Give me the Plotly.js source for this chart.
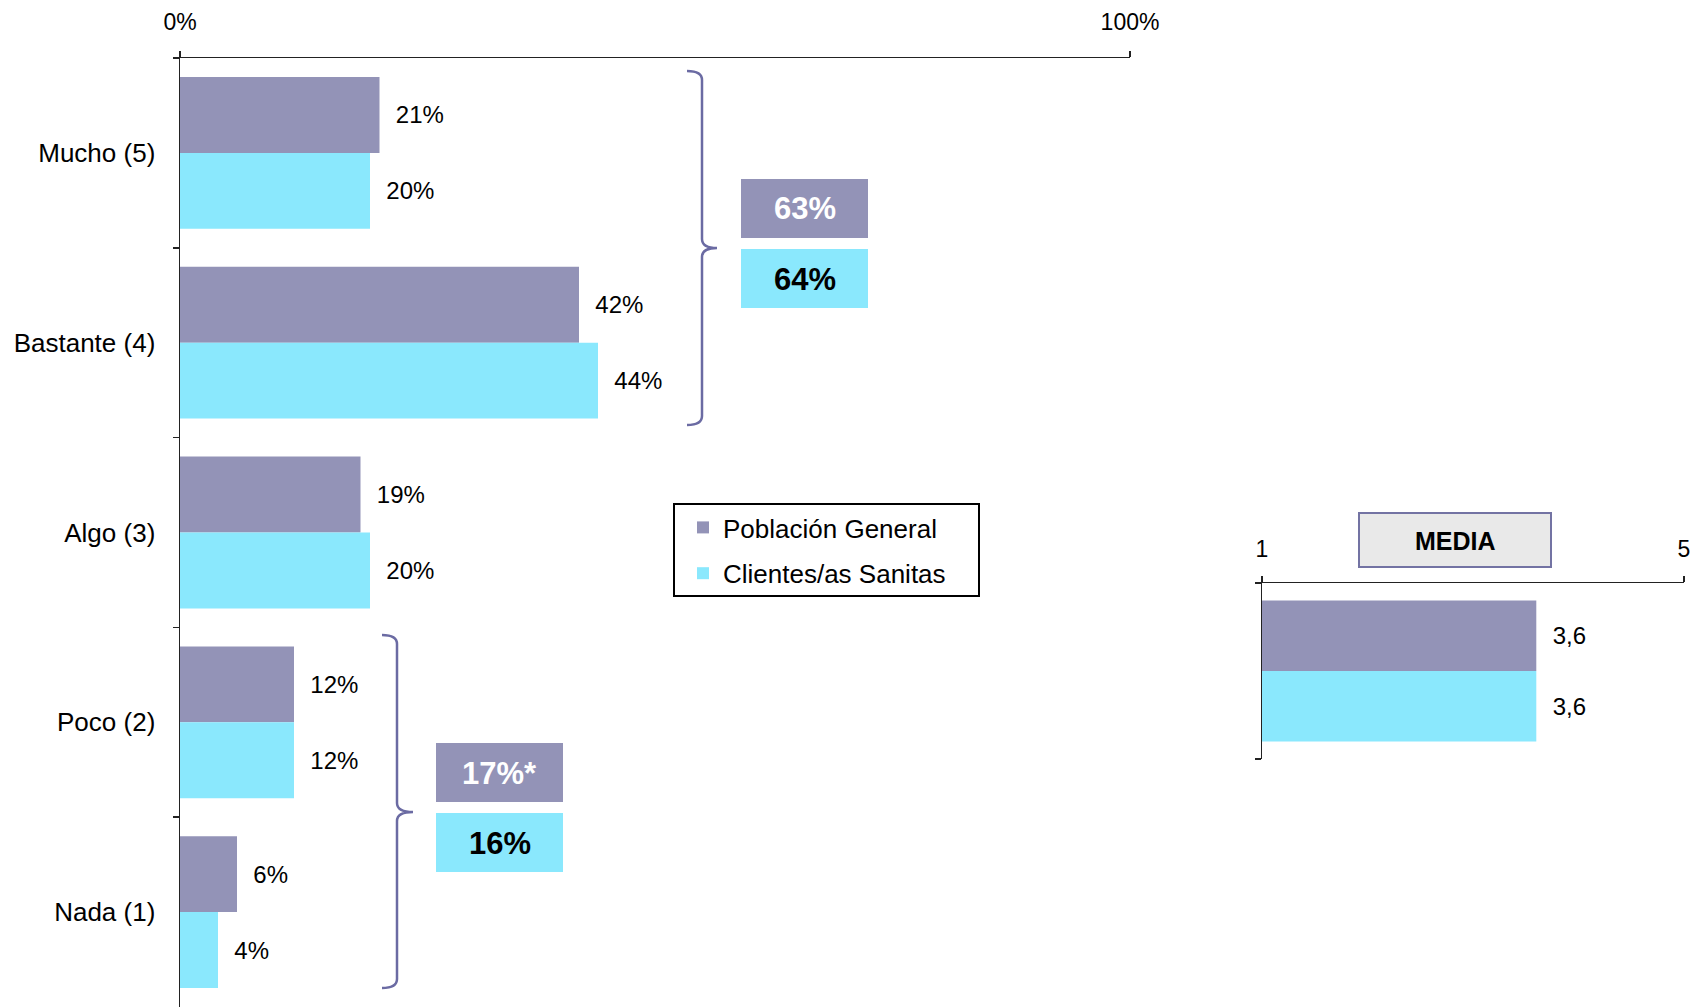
<!DOCTYPE html>
<html>
<head>
<meta charset="utf-8">
<script src="https://cdn.plot.ly/plotly-3.0.1.min.js"></script>
<style>html,body{margin:0;padding:0;background:#fff;}#chart{width:1701px;height:1007px;}</style>
</head>
<body>
<div id="chart"></div>
<script>
// ---- data ----
const categories = ['Mucho (5)', 'Bastante (4)', 'Algo (3)', 'Poco (2)', 'Nada (1)'];
const seriesNames = ['Población General', 'Clientes/as Sanitas'];
const poblacionGeneral = [21, 42, 19, 12, 6];
const clientesSanitas = [20, 44, 20, 12, 4];
const mediaLabel = ['MEDIA'];
const mediaPoblacion = [3.6];
const mediaSanitas = [3.6];
const topTwoBox = [63, 64];       // Mucho + Bastante
const bottomTwoBox = [17, 16];    // Poco + Nada
const bottomTwoNote = ['*', ''];
const xTickVals = [0, 100];
const xTickText = ['0%', '100%'];
const mediaTickVals = [1, 5];
const mediaTickText = ['1', '5'];

// ---- style ----
const W = 1701, H = 1007;
const colPG = '#9393b7', colCS = '#8ae8fd', braceCol = '#6b6ba3';
const FONT = 'Liberation Sans, Arial, sans-serif';
const X = p => p / W, Y = p => 1 - p / H;
const pad = '\u00a0\u00a0';

const traces = [
  {type:'bar', orientation:'h', name:seriesNames[0], y:categories, x:poblacionGeneral,
   marker:{color:colPG}, texttemplate:pad + '%{x}%', textposition:'outside', cliponaxis:false,
   textfont:{size:24, color:'#000', family:FONT}, legendgroup:'a', hoverinfo:'none'},
  {type:'bar', orientation:'h', name:seriesNames[1], y:categories, x:clientesSanitas,
   marker:{color:colCS}, texttemplate:pad + '%{x}%', textposition:'outside', cliponaxis:false,
   textfont:{size:24, color:'#000', family:FONT}, legendgroup:'b', hoverinfo:'none'},
  {type:'bar', orientation:'h', name:seriesNames[0], y:mediaLabel, x:mediaPoblacion, xaxis:'x2', yaxis:'y2',
   marker:{color:colPG}, texttemplate:pad + '%{x:.1f}', textposition:'outside', cliponaxis:false,
   textfont:{size:24, color:'#000', family:FONT}, showlegend:false, hoverinfo:'none'},
  {type:'bar', orientation:'h', name:seriesNames[1], y:mediaLabel, x:mediaSanitas, xaxis:'x2', yaxis:'y2',
   marker:{color:colCS}, texttemplate:pad + '%{x:.1f}', textposition:'outside', cliponaxis:false,
   textfont:{size:24, color:'#000', family:FONT}, showlegend:false, hoverinfo:'none'}
];

function bracePath(x, x0, tip, y0, y1, ym) {
  return 'M' + X(x0) + ',' + Y(y0) +
    ' Q' + X(x) + ',' + Y(y0) + ' ' + X(x) + ',' + Y(y0 + 9) +
    ' L' + X(x) + ',' + Y(ym - 9) +
    ' Q' + X(x) + ',' + Y(ym) + ' ' + X(tip) + ',' + Y(ym) +
    ' Q' + X(x) + ',' + Y(ym) + ' ' + X(x) + ',' + Y(ym + 9) +
    ' L' + X(x) + ',' + Y(y1 - 9) +
    ' Q' + X(x) + ',' + Y(y1) + ' ' + X(x0) + ',' + Y(y1) + ' ';
}

function rect(x0, y0, x1, y1, fill, line, lw) {
  return {type:'rect', xref:'paper', yref:'paper', x0:X(x0), x1:X(x1), y0:Y(y1), y1:Y(y0),
    fillcolor:fill, line:{color:line || fill, width:lw || 0}, layer:'above'};
}
function label(txt, cx, cy, color, size) {
  return {xref:'paper', yref:'paper', x:X(cx), y:Y(cy), xanchor:'center', yanchor:'middle',
    text:'<b>' + txt + '</b>', showarrow:false, font:{size:size, color:color, family:FONT}};
}

const shapes = [
  {type:'path', xref:'paper', yref:'paper', path:bracePath(702, 687, 717, 71, 425, 248), line:{color:braceCol, width:2.5}},
  {type:'path', xref:'paper', yref:'paper', path:bracePath(397, 382, 413, 635, 988, 812), line:{color:braceCol, width:2.5}},
  rect(741, 179, 868, 238, colPG),
  rect(741, 249, 868, 308, colCS),
  rect(436, 743, 563, 802, colPG),
  rect(436, 813, 563, 872, colCS),
  rect(1359, 513, 1551, 567, '#e9e9e9', '#7373a3', 2),
  {type:'rect', xref:'paper', yref:'paper', x0:X(674), x1:X(979), y0:Y(596), y1:Y(504), line:{color:'#000', width:2}, fillcolor:'rgba(0,0,0,0)'}
];

const annotations = [
  label(topTwoBox[0] + '%', 804.5, 209, '#fff', 31),
  label(topTwoBox[1] + '%', 804.5, 279, '#000', 31),
  label(bottomTwoBox[0] + '%' + bottomTwoNote[0], 499.5, 773, '#fff', 31),
  label(bottomTwoBox[1] + '%' + bottomTwoNote[1], 499.5, 843, '#000', 31),
  label(mediaLabel[0], 1455, 541, '#000', 25)
];

const axLine = {showline:true, linecolor:'#222', linewidth:1.5, showgrid:false, zeroline:false,
  ticks:'outside', ticklen:6, tickcolor:'#222', tickwidth:1.5};

const layout = {
  width:W, height:H, margin:{l:0, r:0, t:0, b:0}, paper_bgcolor:'#fff', plot_bgcolor:'#fff',
  font:{family:FONT, color:'#000'}, separators:',.',
  barmode:'group', bargap:0.2, bargroupgap:0,
  xaxis:Object.assign({}, axLine, {domain:[X(180), X(1130)], range:[0, 100], side:'top', anchor:'y',
    tickmode:'array', tickvals:xTickVals, ticktext:xTickText, tickfont:{size:23}, ticklabelstandoff:11, fixedrange:true}),
  yaxis:Object.assign({}, axLine, {domain:[0, Y(58)], type:'category', categoryorder:'array', categoryarray:categories,
    autorange:'reversed', anchor:'x', tickson:'boundaries', tickfont:{size:26}, ticklabelstandoff:18, fixedrange:true}),
  xaxis2:Object.assign({}, axLine, {domain:[X(1262), X(1684)], range:[1, 5], side:'top', anchor:'y2',
    tickmode:'array', tickvals:mediaTickVals, ticktext:mediaTickText, tickfont:{size:23}, ticklabelstandoff:9, fixedrange:true}),
  yaxis2:Object.assign({}, axLine, {domain:[Y(759), Y(583)], type:'category', autorange:'reversed', anchor:'x2',
    tickson:'boundaries', showticklabels:false, fixedrange:true}),
  showlegend:true,
  legend:{x:X(683), y:Y(504), xanchor:'left', yanchor:'top', bgcolor:'rgba(0,0,0,0)', borderwidth:0,
    traceorder:'grouped', tracegroupgap:9, font:{size:26, family:FONT, color:'#000'}},
  shapes:shapes, annotations:annotations
};

Plotly.newPlot('chart', traces, layout, {displayModeBar:false, staticPlot:true});
</script>
</body>
</html>
